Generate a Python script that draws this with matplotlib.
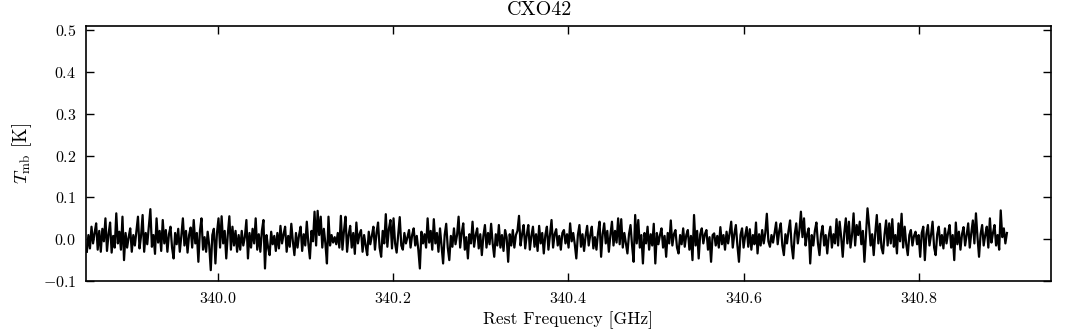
import numpy as np
import matplotlib
matplotlib.use("Agg")
import matplotlib.pyplot as plt
from matplotlib.ticker import ScalarFormatter

# ---- data ----
title = "CXO42"
freq_start = 339.851   # GHz, first channel
freq_stop = 340.900    # GHz, last channel

tmb_seg1 = [
    -0.030, 0.010, -0.022, 0.030, -0.010, 0.015, 0.038, -0.025, 0.020, -0.030,
    0.025, -0.005, 0.050, -0.028, 0.012, 0.040, -0.032, 0.008, -0.020, 0.062,
    -0.010, 0.018, -0.025, 0.054, -0.050, 0.015, -0.020, 0.005, 0.026, -0.030,
    0.010, -0.015, 0.020, 0.054, -0.022, 0.008, 0.058, -0.030, 0.015, -0.012,
    0.030, 0.072, -0.018, 0.010, -0.035, 0.050, -0.008, 0.020, -0.028, 0.046,
    -0.010, 0.022, -0.030, 0.012, 0.030, -0.020, -0.046, 0.015, -0.012, 0.025,
    -0.030, 0.008, 0.050, -0.015, 0.020, -0.032, 0.010, 0.028, -0.020, 0.046,
    -0.010, 0.015, -0.054, 0.020, 0.050, -0.025, 0.005, -0.030, 0.018, -0.015,
    -0.074, 0.010, 0.025, -0.058, 0.015, 0.050, -0.020, 0.055, -0.010, 0.020,
    -0.046, 0.012, 0.055, -0.025, 0.030, -0.015, 0.020, -0.030,
]
tmb_seg2 = [
    0.010, -0.025, 0.020, -0.015, 0.005, 0.046, -0.046, 0.015, -0.020, 0.025,
    -0.010, 0.050, -0.025, 0.012, -0.030, 0.020, 0.046, -0.070, 0.010, -0.020,
    -0.038, 0.018, -0.012, 0.008, -0.028, 0.015, -0.022, 0.032, -0.010, 0.012,
    0.030, -0.030, 0.008, -0.018, 0.037, -0.005, -0.038, 0.015, -0.020, 0.010,
    0.030, -0.028, 0.012, -0.015, 0.042, -0.010, -0.046, 0.020, -0.005, 0.066,
    -0.015, 0.068, 0.010, 0.054, -0.020, 0.025, -0.010, -0.058, 0.054, -0.015,
    0.010, -0.008, 0.005, -0.012, 0.015, -0.020, 0.056, -0.025, 0.020, 0.054,
    -0.030, 0.010, 0.032, -0.020, 0.015, -0.035, 0.040, -0.010, 0.012, 0.022,
    -0.030, 0.010, -0.015, -0.038, 0.018, -0.012, 0.008, 0.030, -0.025, 0.015,
    0.040, -0.020, -0.042, 0.020, -0.010, 0.060, -0.018, 0.025, 0.046, -0.022,
]
tmb_seg3 = [
    0.050, -0.010, -0.032, 0.012, 0.053, -0.015, -0.025, 0.015, -0.010, 0.005,
    0.022, -0.020, 0.010, 0.026, -0.015, 0.008, -0.025, -0.070, 0.018, -0.010,
    0.012, -0.020, 0.050, -0.008, 0.020, -0.025, 0.048, -0.010, 0.015, -0.030,
    0.026, -0.015, -0.058, 0.010, 0.037, -0.020, -0.050, 0.008, -0.018, 0.026,
    -0.012, 0.010, 0.054, -0.020, 0.015, 0.038, -0.025, 0.005, -0.046, 0.012,
    -0.010, 0.042, -0.018, 0.010, 0.026, -0.022, 0.012, -0.038, 0.008, 0.034,
    -0.020, 0.015, -0.012, 0.037, -0.010, -0.042, 0.012, -0.015, 0.034, -0.020,
    0.010, -0.028, 0.022, 0.005, -0.054, 0.012, -0.015, 0.022, -0.020, 0.010,
    0.020, 0.056, -0.015, 0.012, 0.034, -0.022, 0.010, 0.034, -0.025, 0.008,
    0.030, -0.018, 0.012, -0.028, 0.032, -0.010, 0.015, -0.034, 0.010, 0.030,
]
tmb_seg4 = [
    -0.025, 0.010, 0.046, -0.020, 0.012, 0.024, -0.015, 0.008, -0.025, 0.015,
    0.022, -0.010, 0.012, -0.020, 0.038, -0.005, 0.015, -0.012, -0.046, 0.010,
    0.034, -0.018, 0.012, -0.028, 0.008, 0.032, -0.015, 0.010, 0.030, -0.022,
    0.005, -0.025, 0.015, 0.042, -0.042, 0.012, 0.038, -0.010, 0.020, -0.030,
    0.010, 0.042, -0.015, 0.020, -0.008, 0.050, -0.012, 0.048, -0.020, 0.015,
    -0.010, -0.034, 0.012, 0.034, -0.015, -0.054, 0.058, -0.010, 0.046, -0.020,
    0.010, -0.058, 0.015, -0.010, 0.030, -0.025, 0.012, -0.015, 0.037, -0.058,
    0.015, -0.012, 0.010, 0.026, -0.020, 0.008, -0.042, 0.015, -0.010, 0.045,
    -0.015, 0.012, 0.022, -0.020, -0.034, 0.010, -0.012, 0.026, -0.018, 0.010,
    0.022, -0.025, 0.008, -0.050, 0.058, -0.015, 0.020, -0.046, 0.012, 0.026,
]
tmb_seg5 = [
    -0.010, 0.012, 0.022, -0.025, 0.005, -0.054, 0.010, 0.014, -0.015, 0.008,
    -0.020, 0.029, -0.012, 0.010, -0.025, 0.018, -0.010, 0.015, 0.042, -0.020,
    0.012, 0.034, -0.015, -0.054, 0.010, 0.026, -0.020, 0.008, 0.029, -0.018,
    0.024, -0.025, 0.010, -0.012, 0.040, -0.034, 0.012, -0.015, 0.022, -0.010,
    0.015, 0.061, -0.005, -0.018, 0.010, -0.008, 0.015, 0.040, -0.012, 0.020,
    0.038, -0.015, -0.038, 0.012, -0.010, 0.020, 0.045, -0.015, -0.046, 0.012,
    0.038, -0.010, 0.020, 0.066, 0.005, 0.050, -0.015, 0.012, 0.026, -0.058,
    0.010, -0.015, 0.020, 0.040, -0.010, -0.038, 0.012, 0.032, -0.015, 0.010,
    -0.034, 0.008, 0.030, -0.020, 0.012, -0.010, 0.048, -0.015, 0.042, 0.005,
    -0.042, 0.015, 0.050, -0.010, 0.042, -0.020, 0.010, 0.062, -0.015, 0.034,
]
tmb_seg6 = [
    0.010, 0.042, -0.012, 0.020, -0.054, 0.010, 0.074, 0.034, -0.015, 0.012,
    -0.038, 0.015, 0.058, -0.010, 0.037, -0.020, -0.034, 0.012, 0.045, -0.015,
    0.038, -0.010, 0.048, -0.018, 0.010, -0.034, 0.038, -0.005, 0.061, -0.020,
    0.030, -0.012, -0.038, 0.010, 0.022, -0.015, 0.008, 0.018, -0.012, 0.010,
    -0.042, 0.015, 0.030, -0.050, 0.012, 0.034, -0.015, 0.010, 0.042, -0.020,
    -0.038, 0.012, 0.030, -0.015, 0.010, -0.022, 0.026, -0.010, 0.015, 0.034,
    -0.020, 0.010, -0.050, 0.040, -0.012, 0.018, -0.025, 0.012, 0.029, -0.015,
    0.010, 0.038, -0.020, 0.015, 0.045, -0.010, 0.062, 0.005, -0.042, 0.012,
    0.034, -0.015, 0.010, 0.030, -0.020, 0.050, -0.008, 0.015, 0.034, -0.015,
    0.010, -0.025, 0.069, 0.005, 0.026, -0.010, 0.015,
]
x_ticks = [340.0, 340.2, 340.4, 340.6, 340.8]
y_ticks = [-0.1, 0.0, 0.1, 0.2, 0.3, 0.4, 0.5]

tmb = np.array(tmb_seg1 + tmb_seg2 + tmb_seg3 + tmb_seg4 + tmb_seg5 + tmb_seg6)
freq = np.linspace(freq_start, freq_stop, len(tmb))

# ---- style ----
plt.rcParams.update({
    "font.family": ["cmr10", "DejaVu Serif"],
    "mathtext.fontset": "cm",
    "axes.formatter.use_mathtext": True,
    "axes.unicode_minus": True,
})

fig = plt.figure(figsize=(10.72, 3.31), dpi=100, facecolor="white")
ax = fig.add_axes([0.0802, 0.151, 0.900, 0.770])
ax.plot(freq, tmb, color="black", lw=1.6)

ax.set_xlim(339.85, 340.95)
ax.set_ylim(-0.1, 0.51)
ax.set_xticks(x_ticks)
ax.set_yticks(y_ticks)
for axis in (ax.xaxis, ax.yaxis):
    fmt = ScalarFormatter(useOffset=False, useMathText=True)
    axis.set_major_formatter(fmt)
ax.tick_params(direction="in", length=6, width=1.0, top=True, right=True,
               labelsize=11.5, pad=7)
for s in ax.spines.values():
    s.set_linewidth(1.2)

fig.text(0.503, 0.971, title, ha="center", va="center", fontsize=14.5)
ax.set_xlabel("Rest Frequency [GHz]", fontsize=12.6, labelpad=4)
ax.set_ylabel(r"$T_\mathrm{mb}$ [K]", fontsize=13.5, labelpad=6)

fig.savefig("out.png", dpi=100, facecolor="white")
